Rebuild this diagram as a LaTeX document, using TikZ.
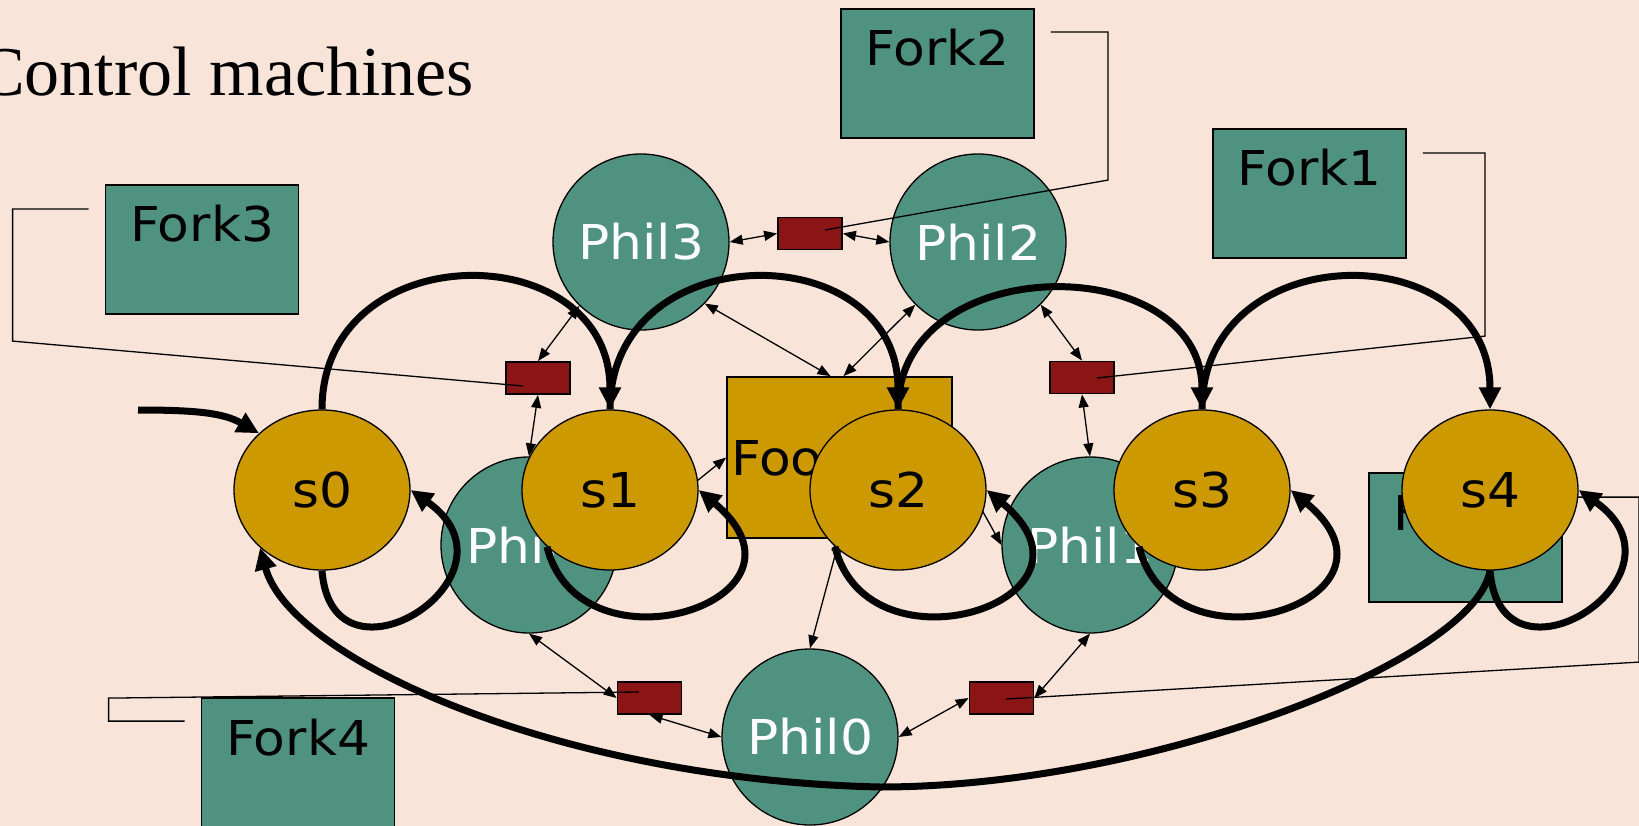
\documentclass[tikz,border=0pt]{standalone}
\usepackage{fontspec}
\setmainfont{Liberation Serif}
\newfontfamily\labfont[FakeStretch=1.08]{DejaVu Sans}
\usetikzlibrary{arrows.meta,shapes.geometric,calc}
\definecolor{bgc}{RGB}{248,228,216}
\definecolor{tealc}{RGB}{80,146,128}
\definecolor{goldc}{RGB}{204,153,0}
\definecolor{redc}{RGB}{139,20,20}
\begin{document}
\begin{tikzpicture}[x=1pt,y=-1pt,
  lab/.style={font=\labfont\fontsize{48}{58}\selectfont},
  phil/.style={lab, circle, draw, line width=1.3pt, fill=tealc, text=white, minimum size=176pt, inner sep=0pt},
  state/.style={lab, ellipse, draw, line width=1.3pt, fill=goldc, minimum width=176pt, minimum height=160pt, inner sep=0pt},
  token/.style={rectangle, draw, line width=1.8pt, fill=redc, minimum width=64pt, minimum height=32pt, inner sep=0pt},
  forkbox/.style={lab, rectangle, draw, line width=1.8pt, fill=tealc, minimum width=193pt, minimum height=129pt, inner sep=0pt, text height=35pt, text depth=50pt},
  foodbox/.style={lab, rectangle, draw, line width=1.8pt, fill=goldc, minimum height=161pt, text width=217pt, inner xsep=4pt, inner ysep=0pt, align=left},
  conn/.style={line width=1.3pt},
  biarrow/.style={line width=1.3pt, {Triangle[length=13pt,width=10pt]}-{Triangle[length=13pt,width=10pt]}},
  thk/.style={line width=7pt, -{Triangle[length=22pt,width=21pt]}},
]
\useasboundingbox (0,0) rectangle (1639,826);
\clip (0,0) rectangle (1639,826);
\fill[bgc] (0,0) rectangle (1639,826);

\node[anchor=base west, inner sep=0pt, font=\fontsize{70}{84}\selectfont] (title) at (-22,96) {Control machines};

% fork boxes and food
\node[forkbox] (fork3) at (202,249.5) {Fork3};
\node[forkbox] (fork2) at (937.5,73.5) {Fork2};
\node[forkbox] (fork1) at (1309.5,193.5) {Fork1};
\node[forkbox] (fork0) at (1465.5,537.5) {Fork0};
\node[forkbox] (fork4) at (298,762.5) {Fork4};
\node[foodbox] (food) at (839.5,457.5) {Food};

% philosophers
\node[phil] (phil3) at (641,242) {Phil3};
\node[phil] (phil2) at (978,242) {Phil2};
\node[phil] (phil4) at (529,545) {Phil4};
\node[phil] (phil1) at (1090,545) {Phil1};
\node[phil] (phil0) at (810,737) {Phil0};

% fork tokens
\node[token] (tok3) at (538,378) {};
\node[token] (tok2) at (810,233.5) {};
\node[token] (tok1) at (1082,377.5) {};
\node[token] (tok0) at (1001.5,698) {};
\node[token] (tok4) at (649.5,698) {};

% connectors from fork boxes to tokens
\draw[conn] ([shift={(-16,25)}]fork3.north west) -| ++(-76,132) -- ([shift={(-15,8)}]tok3.center);
\draw[conn] ([shift={(16,24)}]fork2.north east) -| ++(57,148) -- ([shift={(15,-3.5)}]tok2.center);
\draw[conn] ([shift={(16,25)}]fork1.north east) -| ++(62,183) -- ([shift={(15,0.5)}]tok1.center);
\draw[conn] ([shift={(15,25)}]fork0.north east) -| ++(61,165) -- ([shift={(4.5,1)}]tok0.center);
\draw[conn] ([shift={(-16,24)}]fork4.north west) -| ++(-76,-23) -- ([shift={(-10.5,-6)}]tok4.center);

% thin double arrows
\draw[biarrow] (phil3.east) -- (tok2.west);
\draw[biarrow] (tok2.east) -- (phil2.west);
\draw[biarrow] (phil3.226) -- (tok3.north);
\draw[biarrow] (tok3.south) -- (phil4.north);
\draw[biarrow] (phil3.316) -- ([xshift=-9pt]food.north);
\draw[biarrow] (phil2.225) -- ([xshift=4pt]food.north);
\draw[biarrow] (phil2.315) -- (tok1.north);
\draw[biarrow] (tok1.south) -- (phil1.north);
\draw[biarrow] (phil4.east) -- (food.west);
\draw[biarrow] (food.east) -- (phil1.west);
\draw[biarrow] (food.south) -- (phil0.north);
\draw[biarrow] (phil1.south) -- (tok0.east);
\draw[biarrow] (tok0.west) -- (phil0.east);
\draw[biarrow] (phil0.west) -- (tok4.south);
\draw[biarrow] (tok4.west) -- (phil4.south);

% states
\node[state] (s0) at (322,490) {s0};
\node[state] (s1) at (610,490) {s1};
\node[state] (s2) at (898,490) {s2};
\node[state] (s3) at (1202,490) {s3};
\node[state] (s4) at (1490,490) {s4};

% thick transitions
\coordinate (init) at (138,410);
\coordinate (retlow) at (880,787);
\draw[thk] (init) .. controls +(60,0) and +(-35,-20) .. (s0.138);
\draw[thk] (s0.north) .. controls +(0,-175) and +(0,-175) .. (s1.north);
\draw[thk] (s1.north) .. controls +(0,-175) and +(0,-175) .. (s2.north);
\draw[thk] (s2.north) .. controls +(0,-160) and +(0,-160) .. (s3.north);
\draw[thk] (s3.north) .. controls +(0,-175) and +(0,-175) .. (s4.north);
\draw[thk] (s0.south) .. controls +(10,130) and +(120,85) .. (s0.east);
\draw[thk] (s1.222) .. controls +(33,133) and +(132,110) .. (s1.east);
\draw[thk] (s2.222) .. controls +(33,133) and +(132,110) .. (s2.east);
\draw[thk] (s3.222) .. controls +(33,133) and +(132,110) .. (s3.east);
\draw[thk] (s4.south) .. controls +(10,130) and +(120,85) .. (s4.east);
\draw[thk] (s4.south) .. controls +(-15,90) and (1150,787) .. (retlow) .. controls (560,780) and +(30,112) .. (s0.223);
\end{tikzpicture}
\end{document}
